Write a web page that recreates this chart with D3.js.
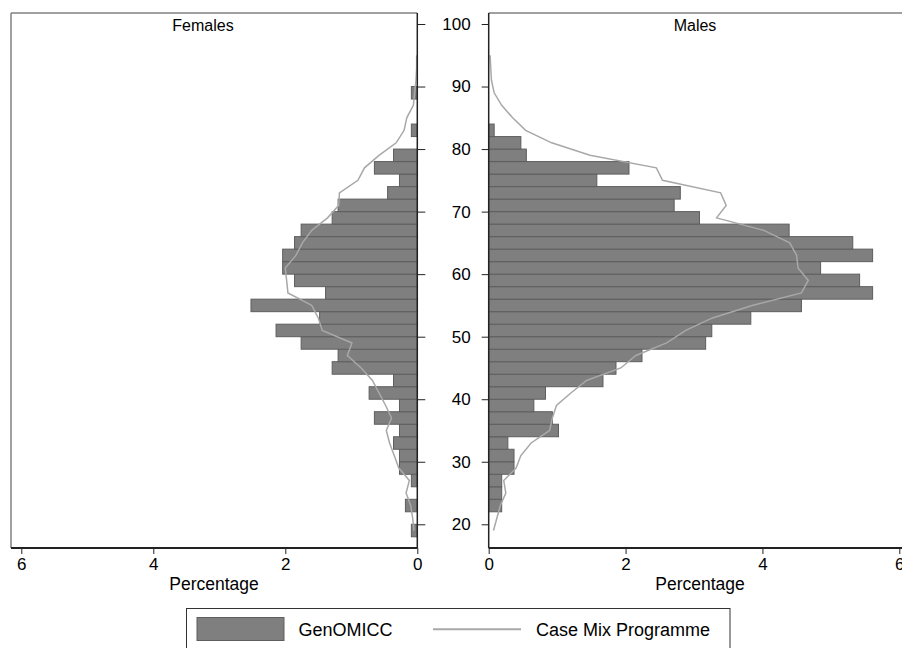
<!DOCTYPE html>
<html>
<head>
<meta charset="utf-8">
<script src="https://cdn.jsdelivr.net/npm/d3@7"></script>
<style>
  html, body { margin: 0; padding: 0; background: #fff; }
  svg { display: block; font-family: "Liberation Sans", Arial, Helvetica, sans-serif; }
</style>
</head>
<body>
<svg id="chart" width="902" height="648"></svg>
<script>
// ---------------- DATA ----------------
const panelTitles = ["Females", "Males"];
const axisTitle = "Percentage";
const legendLabels = ["GenOMICC", "Case Mix Programme"];
const xTicks = [0, 2, 4, 6];
const yTicks = [20, 30, 40, 50, 60, 70, 80, 90, 100];

// 2-year age bins (lower edge) for GenOMICC histogram
const binLower = [18, 20, 22, 24, 26, 28, 30, 32, 34, 36, 38, 40, 42, 44, 46, 48, 50, 52,
                  54, 56, 58, 60, 62, 64, 66, 68, 70, 72, 74, 76, 78, 80, 82, 84, 86, 88];
const genomiccFemales = [0.09, 0, 0.18, 0, 0.09, 0.27, 0.27, 0.36, 0.27, 0.65, 0.27, 0.73,
                         0.36, 1.29, 1.20, 1.76, 2.14, 1.48, 2.52, 1.39, 1.86, 2.04, 2.04,
                         1.86, 1.76, 1.29, 1.20, 0.45, 0.27, 0.65, 0.36, 0, 0.09, 0, 0, 0.09];
const genomiccMales = [0, 0, 0.19, 0.19, 0.19, 0.37, 0.37, 0.28, 1.02, 0.93, 0.66, 0.83,
                       1.67, 1.86, 2.24, 3.17, 3.26, 3.83, 4.57, 5.61, 5.42, 4.85, 5.61,
                       5.32, 4.39, 3.08, 2.71, 2.80, 1.58, 2.05, 0.55, 0.47, 0.08, 0, 0, 0];

// Case Mix Programme distribution (age midpoints)
const cmpAge = [19, 21, 23, 25, 27, 29, 31, 33, 35, 37, 39, 41, 43, 45, 47, 49, 51, 53, 55,
                57, 59, 61, 63, 65, 67, 69, 71, 73, 75, 77, 79, 81, 83, 85, 87, 89, 91, 93, 95];
const cmpFemales = [0.05, 0.07, 0.10, 0.17, 0.12, 0.28, 0.35, 0.42, 0.47, 0.39, 0.48, 0.58,
                    0.68, 0.85, 1.06, 0.99, 1.44, 1.50, 1.60, 1.96, 1.98, 2.00, 1.84, 1.74,
                    1.60, 1.36, 1.19, 1.18, 0.90, 0.80, 0.58, 0.32, 0.20, 0.16, 0.06, 0.04,
                    0.02, 0.01, 0.01];
const cmpMales = [0.07, 0.12, 0.17, 0.25, 0.22, 0.40, 0.47, 0.62, 0.89, 0.93, 0.99, 1.20,
                  1.43, 1.93, 2.15, 2.60, 2.88, 3.27, 3.85, 4.57, 4.67, 4.52, 4.50, 4.40,
                  4.02, 3.33, 3.47, 3.39, 2.54, 2.45, 1.48, 0.92, 0.54, 0.35, 0.19, 0.08,
                  0.04, 0.03, 0.02];
const binWidth = 2;

// ---------------- LAYOUT ----------------
const svg = d3.select("#chart");
const plotTop = 13, plotBottom = 548;
const leftPanel = { x0: 11, x1: 417.3 };
const rightPanel = { x0: 488.7, x1: 902 };

const y = d3.scaleLinear().domain([20, 100]).range([524.3, 24]);
const xF = d3.scaleLinear().domain([0, 6]).range([417.3, 21.3]);
const xM = d3.scaleLinear().domain([0, 6]).range([488.7, 899.3]);

const barFill = "#7f7f7f", barStroke = "#5e5e5e", lineColor = "#a8a8a8";
const frameColor = "#808080", axisColor = "#222";

// frames (plot region outlines)
svg.append("line").attr("x1", leftPanel.x0).attr("x2", leftPanel.x1)
  .attr("y1", plotTop).attr("y2", plotTop).attr("stroke", frameColor).attr("stroke-width", 1.5);
svg.append("line").attr("x1", leftPanel.x0).attr("x2", leftPanel.x0)
  .attr("y1", plotTop).attr("y2", plotBottom).attr("stroke", frameColor).attr("stroke-width", 1.5);
svg.append("line").attr("x1", rightPanel.x0).attr("x2", rightPanel.x1)
  .attr("y1", plotTop).attr("y2", plotTop).attr("stroke", frameColor).attr("stroke-width", 1.5);

// bars
function drawBars(values, xs) {
  const data = binLower.map((lo, i) => ({ lo, v: values[i] })).filter(d => d.v > 0);
  svg.append("g").selectAll("rect").data(data).join("rect")
    .attr("x", d => Math.min(xs(0), xs(d.v)))
    .attr("width", d => Math.abs(xs(d.v) - xs(0)))
    .attr("y", d => y(d.lo + binWidth))
    .attr("height", d => y(d.lo) - y(d.lo + binWidth))
    .attr("fill", barFill)
    .attr("stroke", barStroke)
    .attr("stroke-width", 1);
}
drawBars(genomiccFemales, xF);
drawBars(genomiccMales, xM);

// CMP lines
function drawLine(values, xs) {
  const pts = cmpAge.map((a, i) => [a, values[i]]);
  svg.append("path").datum(pts)
    .attr("fill", "none")
    .attr("stroke", lineColor)
    .attr("stroke-width", 1.5)
    .attr("d", d3.line().x(d => xs(d[1])).y(d => y(d[0])));
}
drawLine(cmpFemales, xF);
drawLine(cmpMales, xM);

// x axes
function styleAxis(g) {
  g.select(".domain").remove();
  g.selectAll(".tick line").attr("stroke", axisColor).attr("stroke-width", 1);
  g.selectAll(".tick text").attr("fill", "#000").style("font-size", "17px")
    .style("font-family", '"Liberation Sans", Arial, Helvetica, sans-serif');
}
svg.append("g").attr("transform", `translate(0,${plotBottom})`)
  .call(d3.axisBottom(xF).tickValues(xTicks).tickSize(6).tickPadding(4).tickFormat(d3.format("d")))
  .call(styleAxis);
svg.append("g").attr("transform", `translate(0,${plotBottom})`)
  .call(d3.axisBottom(xM).tickValues(xTicks).tickSize(6).tickPadding(4).tickFormat(d3.format("d")))
  .call(styleAxis);

// y axes
svg.append("g").attr("transform", `translate(${xF(0)},0)`)
  .call(d3.axisRight(y).tickValues(yTicks).tickSize(8).tickFormat(""))
  .call(styleAxis);
svg.append("g").attr("transform", `translate(${xM(0)},0)`)
  .call(d3.axisLeft(y).tickValues(yTicks).tickSize(7).tickPadding(11).tickFormat(d3.format("d")))
  .call(styleAxis);

// axis lines
svg.append("line").attr("x1", leftPanel.x0).attr("x2", leftPanel.x1)
  .attr("y1", plotBottom).attr("y2", plotBottom).attr("stroke", axisColor).attr("stroke-width", 2);
svg.append("line").attr("x1", rightPanel.x0).attr("x2", rightPanel.x1)
  .attr("y1", plotBottom).attr("y2", plotBottom).attr("stroke", axisColor).attr("stroke-width", 2);
svg.append("line").attr("x1", xF(0)).attr("x2", xF(0))
  .attr("y1", plotTop).attr("y2", plotBottom).attr("stroke", axisColor).attr("stroke-width", 1.5);
svg.append("line").attr("x1", xM(0)).attr("x2", xM(0))
  .attr("y1", plotTop).attr("y2", plotBottom).attr("stroke", axisColor).attr("stroke-width", 1.5);

// titles
const titleX = [203, 695];
const axisTitleX = [214, 700];
panelTitles.forEach((t, i) => {
  svg.append("text").attr("x", titleX[i]).attr("y", 31)
    .attr("text-anchor", "middle").style("font-size", "16px").text(t);
  svg.append("text").attr("x", axisTitleX[i]).attr("y", 590)
    .attr("text-anchor", "middle").style("font-size", "17.5px").text(axisTitle);
});

// legend
const lg = svg.append("g");
lg.append("rect").attr("x", 186.5).attr("y", 608.5).attr("width", 543.5).attr("height", 45)
  .attr("fill", "#fff").attr("stroke", "#333").attr("stroke-width", 1);
lg.append("rect").attr("x", 197).attr("y", 617.5).attr("width", 87).attr("height", 23)
  .attr("fill", barFill).attr("stroke", barStroke).attr("stroke-width", 1);
lg.append("text").attr("x", 298.5).attr("y", 635.5).style("font-size", "18px").text(legendLabels[0]);
lg.append("line").attr("x1", 433).attr("x2", 521).attr("y1", 629.3).attr("y2", 629.3)
  .attr("stroke", lineColor).attr("stroke-width", 2);
lg.append("text").attr("x", 536).attr("y", 635.5).style("font-size", "18px").text(legendLabels[1]);
</script>
</body>
</html>
